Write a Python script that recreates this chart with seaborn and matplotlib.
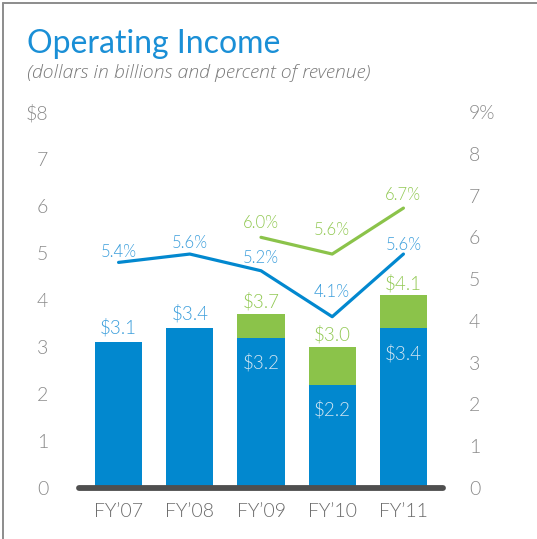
import numpy as np
import pandas as pd
import matplotlib
matplotlib.use("Agg")
import matplotlib.pyplot as plt
from matplotlib.lines import Line2D
import seaborn as sns

# ---- data ----
years = ["FY\u201907", "FY\u201908", "FY\u201909", "FY\u201910", "FY\u201911"]
gaap_income = [3.1, 3.4, 3.2, 2.2, 3.4]            # $B (blue bars)
nongaap_years = ["FY\u201909", "FY\u201910", "FY\u201911"]
nongaap_income = [3.7, 3.0, 4.1]                   # $B (green total)
gaap_pct = [5.4, 5.6, 5.2, 4.1, 5.6]               # % of revenue (blue line)
nongaap_pct = [6.0, 5.6, 6.7]                      # % of revenue (green line)
left_ticks = ["0", "1", "2", "3", "4", "5", "6", "7", "$8"]
right_ticks = ["0", "1", "2", "3", "4", "5", "6", "7", "8", "9%"]

# ---- style ----
BLUE = "#0288cf"
GREEN = "#8bc34a"
BLUE_TXT = "#3d9fdc"
GREEN_TXT = "#92c954"
TICK_GRAY = "#8a8a8a"
LW = 300

sns.set_style("white")
plt.rcParams["font.family"] = ["Lato", "DejaVu Sans"]

W, H = 537, 539
fig = plt.figure(figsize=(W / 100, H / 100), dpi=100)
ax = fig.add_axes([79.4 / W, 1 - 488 / H, (442.6 - 79.4) / W, (488 - 112) / H])

df_g = pd.DataFrame({"year": years, "val": gaap_income})
df_n = pd.DataFrame({"year": nongaap_years, "val": nongaap_income})

sns.barplot(data=df_n, x="year", y="val", order=years, color=GREEN,
            width=0.66, saturation=1, ax=ax, errorbar=None, linewidth=0)
sns.barplot(data=df_g, x="year", y="val", order=years, color=BLUE,
            width=0.66, saturation=1, ax=ax, errorbar=None, linewidth=0)

ax.set_xlim(-0.55, 4.55)
ax.set_ylim(0, 8)
ax.set_yticks(range(9))
ax.set_yticklabels(left_ticks, fontweight=LW)
ax.set_xticks(range(len(years)))
ax.set_xticklabels(years, fontweight=LW)
ax.set_xlabel("")
ax.set_ylabel("")
for s in ax.spines.values():
    s.set_visible(False)
ax.tick_params(axis="y", length=0, pad=22.5, labelsize=14, labelcolor=TICK_GRAY)
ax.tick_params(axis="x", length=0, pad=11, labelsize=14, labelcolor="#6a6a6a")
ax.axhline(0, color="#4f4f4f", lw=4.2, zorder=5, clip_on=False)

# bar value labels
xpos = np.arange(len(years))
for i, (yr, v) in enumerate(zip(years, gaap_income)):
    if yr in nongaap_years:
        ax.annotate(f"${v:.1f}", (i, v), xytext=(0, -18), textcoords="offset points",
                    ha="center", va="center", fontsize=13.5, color="#d6e7f3", fontweight=LW)
    else:
        ax.annotate(f"${v:.1f}", (i, v), xytext=(0, 10.5), textcoords="offset points",
                    ha="center", va="center", fontsize=13.5, color=BLUE_TXT, fontweight=LW)
for yr, v in zip(nongaap_years, nongaap_income):
    i = years.index(yr)
    ax.annotate(f"${v:.1f}", (i, v), xytext=(0, 9), textcoords="offset points",
                ha="center", va="center", fontsize=13.5, color=GREEN_TXT, fontweight=LW)

# secondary axis lines
ax2 = ax.twinx()
ng_x = [years.index(y) for y in nongaap_years]
sns.lineplot(x=xpos, y=gaap_pct, ax=ax2, color=BLUE, lw=2.3)
sns.lineplot(x=ng_x, y=nongaap_pct, ax=ax2, color=GREEN, lw=2.3)
ax2.set_ylim(0, 9)
ax2.set_xlim(-0.55, 4.55)
ax2.set_yticks(range(10))
ax2.set_yticklabels(right_ticks, fontweight=LW)
for s in ax2.spines.values():
    s.set_visible(False)
ax2.tick_params(axis="y", length=0, pad=19, labelsize=14, labelcolor=TICK_GRAY)

blue_off = [7.5, 8, 9.5, 18, 6.5]
green_off = [10, 17, 9.5]
for i, v, o in zip(xpos, gaap_pct, blue_off):
    ax2.annotate(f"{v:.1f}%", (i, v), xytext=(0, o), textcoords="offset points",
                 ha="center", va="center", fontsize=12, color=BLUE_TXT, fontweight=LW)
for i, v, o in zip(ng_x, nongaap_pct, green_off):
    ax2.annotate(f"{v:.1f}%", (i, v), xytext=(0, o), textcoords="offset points",
                 ha="center", va="center", fontsize=12, color=GREEN_TXT, fontweight=LW)

# titles
fig.text(27 / W, 1 - 53 / H, "Operating Income", fontsize=23, color="#1a8fd6",
         va="baseline", ha="left")
fig.text(27 / W, 1 - 78 / H, "(dollars in billions and percent of revenue)", fontsize=14,
         color="#7a7a7a", style="italic", va="baseline", ha="left", fontweight=LW,
         family=["Open Sans", "Lato", "DejaVu Sans"])

# frame (top and left)
fig.add_artist(Line2D([3 / W, 3 / W], [0, 1 - 3 / H], color="#8c8c8c", lw=1.4))
fig.add_artist(Line2D([3 / W, 1], [1 - 3 / H, 1 - 3 / H], color="#8c8c8c", lw=1.4))

fig.savefig("out.png", dpi=100)
